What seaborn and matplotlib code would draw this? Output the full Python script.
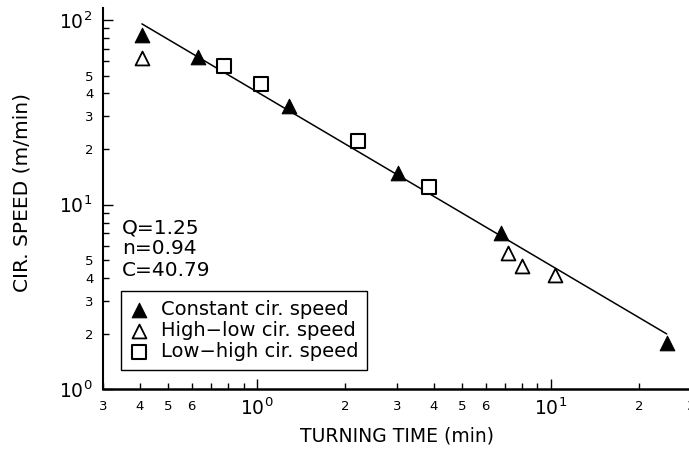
import numpy as np
import matplotlib
matplotlib.use("Agg")
import matplotlib.pyplot as plt
import seaborn as sns
from matplotlib.ticker import LogLocator, FuncFormatter, LogFormatterSciNotation

# Measured cutting data: turning time (min) vs circumferential speed (m/min)
const_time = [0.406, 0.629, 1.29, 3.03, 6.76, 24.8]
const_speed = [82.9, 63.3, 34.2, 14.9, 7.0, 1.79]
hilo_time = [0.406, 7.14, 7.97, 10.3]
hilo_speed = [62.0, 5.49, 4.65, 4.16]
lohi_time = [0.773, 1.03, 2.20, 3.85]
lohi_speed = [56.4, 45.0, 22.2, 12.5]

series_labels = ["Constant cir. speed", "High\u2212low cir. speed", "Low\u2212high cir. speed"]

# Fitted tool-life relation V = C * T^(-n)
Q = 1.25
n_exp = 0.94
C = 40.79
fit_time = np.array([0.406, 24.8])
fit_speed = C * fit_time ** (-n_exp)

x_label_digits = {2, 3, 4, 5, 6}
y_label_digits = {2, 3, 4, 5}

sns.set_style("ticks")
plt.rcParams["font.family"] = ["DejaVu Sans"]
plt.rcParams["mathtext.default"] = "regular"
plt.rcParams["text.color"] = "black"
plt.rcParams["axes.labelcolor"] = "black"

W, H = 689, 451
fig = plt.figure(figsize=(W / 100, H / 100), dpi=100)
ax_left, ax_right, ax_top, ax_bottom = 103.3, 691.0, 8.0, 389.3
ax = fig.add_axes([ax_left / W, 1 - ax_bottom / H,
                   (ax_right - ax_left) / W, (ax_bottom - ax_top) / H])
ax.set_xscale("log")
ax.set_yscale("log")

sns.lineplot(x=fit_time, y=fit_speed, ax=ax, color="black", linewidth=1.1,
             legend=False, zorder=2)
sns.scatterplot(x=const_time, y=const_speed, ax=ax, marker="^", s=110,
                color="black", edgecolor="black", linewidth=0.8,
                label=series_labels[0], zorder=3)
sns.scatterplot(x=hilo_time, y=hilo_speed, ax=ax, marker="^", s=100,
                color="white", edgecolor="black", linewidth=1.3,
                label=series_labels[1], zorder=3)
sns.scatterplot(x=lohi_time, y=lohi_speed, ax=ax, marker="s", s=95,
                color="white", edgecolor="black", linewidth=1.5,
                label=series_labels[2], zorder=3)

ax.set_xlim(0.3, 30)
ax.set_ylim(1, 116)


def minor_formatter(allowed):
    def fmt(v, pos):
        if v <= 0:
            return ""
        exp = np.floor(np.log10(v) + 1e-9)
        m = int(round(v / 10 ** exp))
        return str(m) if m in allowed else ""
    return FuncFormatter(fmt)


for axis, allowed in ((ax.xaxis, x_label_digits), (ax.yaxis, y_label_digits)):
    axis.set_major_locator(LogLocator(base=10, numticks=10))
    axis.set_minor_locator(LogLocator(base=10, subs=np.arange(2, 10), numticks=20))
    axis.set_major_formatter(LogFormatterSciNotation(base=10))
    axis.set_minor_formatter(minor_formatter(allowed))

ax.tick_params(which="both", direction="in", top=False, right=False,
               width=1.0, color="black", labelcolor="black")
ax.tick_params(which="major", length=7, labelsize=13.5)
ax.tick_params(which="minor", length=4.5, labelsize=9.5)
ax.tick_params(axis="x", which="major", pad=6)
ax.tick_params(axis="x", which="minor", pad=8)
ax.tick_params(axis="y", which="major", pad=8)
ax.tick_params(axis="y", which="minor", pad=7)

for side in ("top", "right"):
    ax.spines[side].set_visible(False)
ax.spines["left"].set_linewidth(1.5)
ax.spines["bottom"].set_linewidth(1.8)
for side in ("left", "bottom"):
    ax.spines[side].set_color("black")

ax.set_xlabel("TURNING TIME (min)", fontsize=13.5)
ax.set_ylabel("CIR. SPEED (m/min)", fontsize=14.5)
ax.xaxis.set_label_coords(0.5, (ax_bottom - 436) / (ax_bottom - ax_top))
ax.xaxis.label.set_va("center")
ax.yaxis.set_label_coords((22 - ax_left) / (ax_right - ax_left),
                          (ax_bottom - 192) / (ax_bottom - ax_top))
ax.yaxis.label.set_va("center")

# Fit parameters
for text, y in ((f"Q={Q:.2f}", 228), (f"n={n_exp:.2f}", 249), (f"C={C:.2f}", 270)):
    fig.text(122 / W, 1 - y / H, text, ha="left", va="center", fontsize=14.5)

leg = ax.legend(loc="upper left", bbox_to_anchor=(121 / W, 1 - 291 / H),
                bbox_transform=fig.transFigure, frameon=True, fancybox=False,
                edgecolor="black", framealpha=1, fontsize=14, labelspacing=0.12,
                handlelength=1.0, handletextpad=0.6, borderpad=0.45,
                borderaxespad=0)
leg.get_frame().set_linewidth(1.0)

fig.savefig("out.png", dpi=100)
